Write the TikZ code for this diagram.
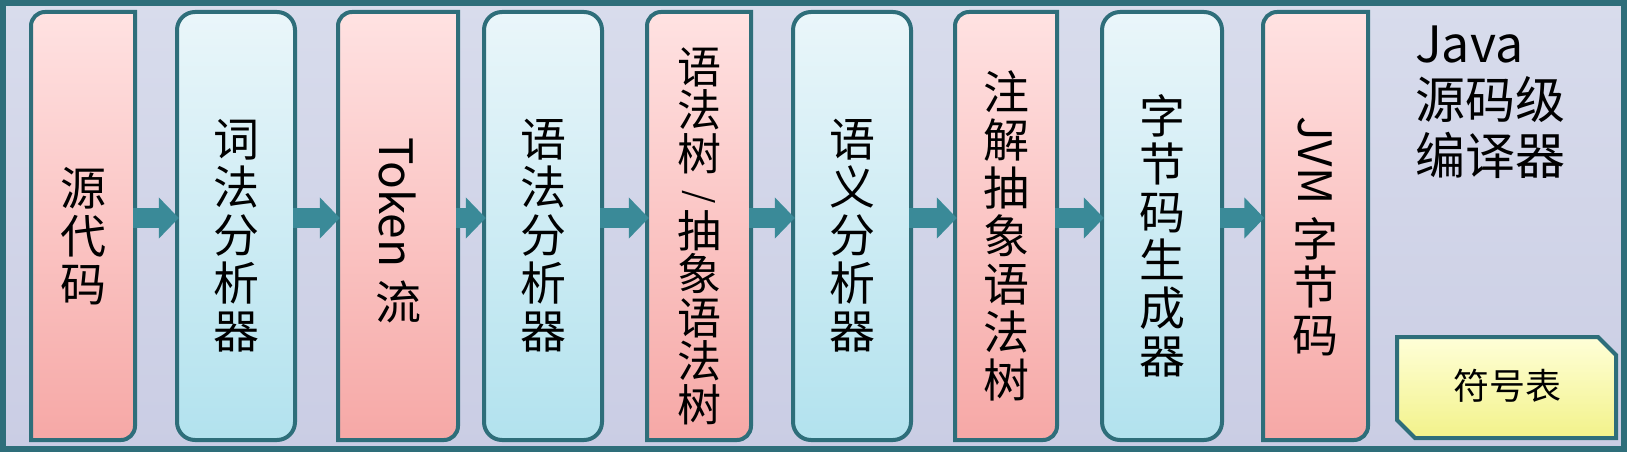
\documentclass[tikz,border=0pt]{standalone}
\usepackage{fontspec}
\setmainfont{Noto Sans CJK SC}
\usetikzlibrary{arrows.meta}
\definecolor{bd}{HTML}{2E6E7A}
\definecolor{arr}{HTML}{3A8A98}
\definecolor{pinktop}{HTML}{FFE2E2}
\definecolor{pinkbot}{HTML}{F6A8A6}
\definecolor{bluetop}{HTML}{EAF6FA}
\definecolor{bluebot}{HTML}{B2E2EE}
\definecolor{bgtop}{HTML}{D8DCEC}
\definecolor{bgbot}{HTML}{CACDE4}
\definecolor{yeltop}{HTML}{FFFFD8}
\definecolor{yelbot}{HTML}{F2F28A}
\tikzset{
  vtext/.style={align=center,font=\fontsize{46}{48}\selectfont,inner sep=0pt},
  pinkfill/.style={draw=bd,line width=4pt,top color=pinktop,bottom color=pinkbot},
  bluefill/.style={draw=bd,line width=4pt,top color=bluetop,bottom color=bluebot},
  flow/.style={draw=arr,line width=20pt,-{Triangle[length=20pt,width=40pt]},shorten <=-2pt,shorten >=-2pt},
}
\newcommand{\pinkshape}[2]{% x1 x2
  \path[pinkfill] (#1,440) [rounded corners=14pt] -- (#1,12) [sharp corners] -- (#2,12) -- (#2,240) [rounded corners=14pt] -- (#2,440) [sharp corners] -- (#1,440) -- cycle;}
\newcommand{\blueshape}[2]{%
  \path[bluefill,rounded corners=18pt] (#1,12) rectangle (#2,440);}
\newcommand{\rot}[1]{\rotatebox[origin=c]{-90}{#1}}
\begin{document}
\begin{tikzpicture}[x=1pt,y=-1pt]
\useasboundingbox (0,0) rectangle (1627,452);
\path[draw=bd,line width=6pt,top color=bgtop,bottom color=bgbot] (3,3) rectangle (1624,449);
\pinkshape{31}{135}
\blueshape{177}{295}
\pinkshape{338}{458}
\blueshape{484}{602}
\pinkshape{647}{751}
\blueshape{793}{911}
\pinkshape{955}{1057}
\blueshape{1102}{1222}
\pinkshape{1263}{1368}
\node[vtext,minimum width=104pt,minimum height=428pt] (n1) at (83,236) {源\\代\\码};
\node[vtext,minimum width=118pt,minimum height=428pt] (n2) at (236,236) {词\\法\\分\\析\\器};
\node[vtext,minimum width=120pt,minimum height=428pt] (n3) at (398,230) {\rot{Token}\\[12pt]流};
\node[vtext,minimum width=118pt,minimum height=428pt] (n4) at (543,236) {语\\法\\分\\析\\器};
\node[vtext,minimum width=104pt,minimum height=428pt,font=\fontsize{44}{43.5}\selectfont] (n5) at (699,236) {语\\法\\树\\[-6pt]{\fontsize{34}{34}\selectfont\rot{/}}\\[-4pt]抽\\象\\语\\法\\树};
\node[vtext,minimum width=118pt,minimum height=428pt] (n6) at (852,236) {语\\义\\分\\析\\器};
\node[vtext,minimum width=102pt,minimum height=428pt] (n7) at (1006,236) {注\\解\\抽\\象\\语\\法\\树};
\node[vtext,minimum width=120pt,minimum height=428pt] (n8) at (1162,236) {字\\节\\码\\生\\成\\器};
\node[vtext,minimum width=105pt,minimum height=428pt] (n9) at (1315,236) {\rot{JVM}\\[12pt]字\\节\\码};
\foreach \a/\b in {n1/n2,n2/n3,n3/n4,n4/n5,n5/n6,n6/n7,n7/n8,n8/n9}
  \draw[flow] (\a.east |- 0,218) -- (\b.west |- 0,218);
\node[anchor=north west,align=left,font=\fontsize{50}{56}\selectfont,inner sep=0pt] (title) at (1415,26) {Java\\源码级\\编译器};
\path[draw=bd,line width=4pt,top color=yeltop,bottom color=yelbot]
  (1397,337) -- (1598,337) -- (1616,355) -- (1616,438) -- (1415,438) -- (1397,420) -- cycle;
\node[font=\fontsize{36}{40}\selectfont,inner sep=0pt] (sym) at (1507,386) {符号表};
\end{tikzpicture}
\end{document}
